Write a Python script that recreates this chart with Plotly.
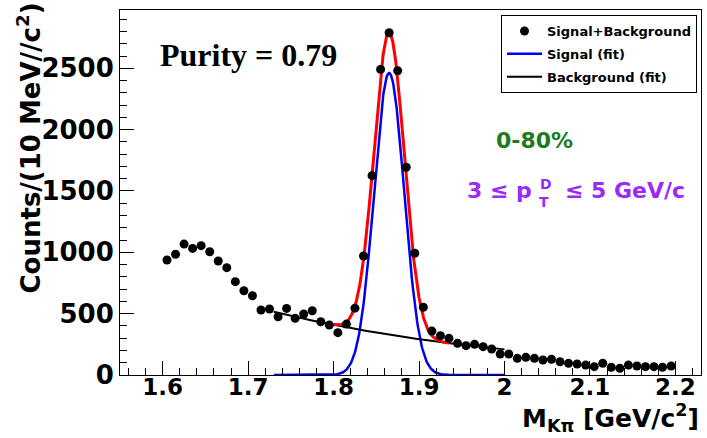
import numpy as np
import plotly.graph_objects as go

# ---- data ----
mass_bins = [round(1.605 + 0.01 * i, 3) for i in range(60)]
counts = [937, 984, 1067, 1032, 1054, 1005, 929, 875, 761, 687,
          646, 530, 538, 475, 543, 462, 497, 524, 434, 407,
          345, 415, 545, 970, 1625, 2491, 2790, 2480, 1693, 992,
          552, 358, 320, 299, 258, 239, 250, 231, 212, 171,
          171, 136, 144, 136, 122, 128, 108, 95, 90, 81,
          68, 95, 63, 55, 81, 73, 68, 68, 63, 73]

# fit parameters
sig_amp = 2462.0      # Gaussian height
sig_mean = 1.865      # GeV/c^2
sig_sigma = 0.0176    # GeV/c^2
bkg_norm = 516.0      # background value at bkg_x0
bkg_x0 = 1.73
bkg_slope = -3.35     # exponential slope
sig_range = [1.73, 2.00]
bkg_range = [1.73, 2.00]
tot_range = [1.80, 1.935]

x_ticks = [1.6, 1.7, 1.8, 1.9, 2.0, 2.1, 2.2]
x_ticklabels = ["1.6", "1.7", "1.8", "1.9", "2", "2.1", "2.2"]
y_ticks = [0, 500, 1000, 1500, 2000, 2500]
y_ticklabels = ["0", "500", "1000", "1500", "2000", "2500"]


def signal(x):
    return sig_amp * np.exp(-0.5 * ((x - sig_mean) / sig_sigma) ** 2)


def background(x):
    return bkg_norm * np.exp(bkg_slope * (x - bkg_x0))


xs = np.linspace(sig_range[0], sig_range[1], 400)
xb = np.linspace(bkg_range[0], bkg_range[1], 200)
xt = np.linspace(tot_range[0], tot_range[1], 300)

fig = go.Figure()
fig.add_trace(go.Scatter(x=xs, y=signal(xs), mode="lines", name="Signal (fit)",
                         line=dict(color="#0000ee", width=2.5), legendrank=2,
                         legendgroup="b"))
fig.add_trace(go.Scatter(x=xb, y=background(xb), mode="lines", name="Background (fit)",
                         line=dict(color="black", width=2), legendrank=3,
                         legendgroup="c"))
fig.add_trace(go.Scatter(x=xt, y=signal(xt) + background(xt), mode="lines",
                         name="Total (fit)", showlegend=False,
                         line=dict(color="#ff0000", width=3)))
fig.add_trace(go.Scatter(x=mass_bins, y=counts, mode="markers", name="Signal+Background",
                         marker=dict(color="black", size=9), legendrank=1,
                         legendgroup="a"))

W, H = 707, 438
L, R, T, B = 120, 6, 10, 63
pw, ph = W - L - R, H - T - B


def px(xp):
    return (xp - L) / pw


def py(yp):
    return (H - B - yp) / ph


tickfont_x = dict(family="DejaVu Sans", size=23, color="black", weight="bold")
tickfont_y = dict(family="DejaVu Sans", size=26, color="black", weight="bold")

fig.update_layout(
    width=W, height=H,
    margin=dict(l=L, r=R, t=T, b=B),
    plot_bgcolor="white", paper_bgcolor="white",
    xaxis=dict(range=[1.55, 2.23], tickmode="array", tickvals=x_ticks, ticktext=x_ticklabels,
               ticks="inside", ticklen=14, tickwidth=1, tickcolor="black",
               showline=True, mirror=True, linecolor="black", linewidth=1,
               showgrid=False, zeroline=False, tickfont=tickfont_x, ticklabelstandoff=-9,
               minor=dict(dtick=0.02, tick0=1.6, ticks="inside", ticklen=7, tickcolor="black",
                          showgrid=False)),
    yaxis=dict(range=[0, 2975], tickmode="array", tickvals=y_ticks, ticktext=y_ticklabels,
               ticks="inside", ticklen=14, tickwidth=1, tickcolor="black",
               showline=True, mirror=True, linecolor="black", linewidth=1,
               showgrid=False, zeroline=False, tickfont=tickfont_y,
               minor=dict(dtick=100, tick0=0, ticks="inside", ticklen=7, tickcolor="black",
                          showgrid=False)),
    legend=dict(x=px(697), y=py(15), xanchor="right", yanchor="top",
                bordercolor="black", borderwidth=1, bgcolor="white",
                traceorder="grouped", tracegroupgap=3, itemwidth=35,
                font=dict(family="DejaVu Sans", size=13, color="black", weight="bold")),
    showlegend=True,
)

purple = "#9a2bf5"
anns = [
    dict(text="Purity = 0.79", x=px(248), y=py(55), xanchor="center", yanchor="middle",
         font=dict(family="Liberation Serif", size=32, color="black", weight="bold")),
    dict(text="0-80%", x=px(534), y=py(140), xanchor="center", yanchor="middle",
         font=dict(family="DejaVu Sans", size=22, color="#1e7a1e", weight="bold")),
    dict(text="3 ≤ p", x=px(534), y=py(190), xanchor="right", yanchor="middle",
         font=dict(family="DejaVu Sans", size=22, color=purple, weight="bold")),
    dict(text="D", x=px(546), y=py(184), xanchor="center", yanchor="middle",
         font=dict(family="DejaVu Sans", size=14, color=purple, weight="bold")),
    dict(text="T", x=px(544), y=py(202), xanchor="center", yanchor="middle",
         font=dict(family="DejaVu Sans", size=14, color=purple, weight="bold")),
    dict(text="≤ 5 GeV/c", x=px(563), y=py(190), xanchor="left", yanchor="middle",
         font=dict(family="DejaVu Sans", size=22, color=purple, weight="bold")),
    dict(text="Counts/(10 MeV//c<sup>2</sup>)", x=px(29), y=py(1), xanchor="center",
         yanchor="top", textangle=-90,
         font=dict(family="DejaVu Sans", size=26, color="black", weight="bold")),
    dict(text="M<sub>Kπ</sub> [GeV/c<sup>2</sup>]", x=px(701), y=py(438), xanchor="right",
         yanchor="bottom",
         font=dict(family="DejaVu Sans", size=25, color="black", weight="bold")),
]
for a in anns:
    a.update(xref="paper", yref="paper", showarrow=False)
fig.update_layout(annotations=anns)

fig.write_html("out.html", config={"displayModeBar": False},
               post_script="document.body.style.margin='0px';")
